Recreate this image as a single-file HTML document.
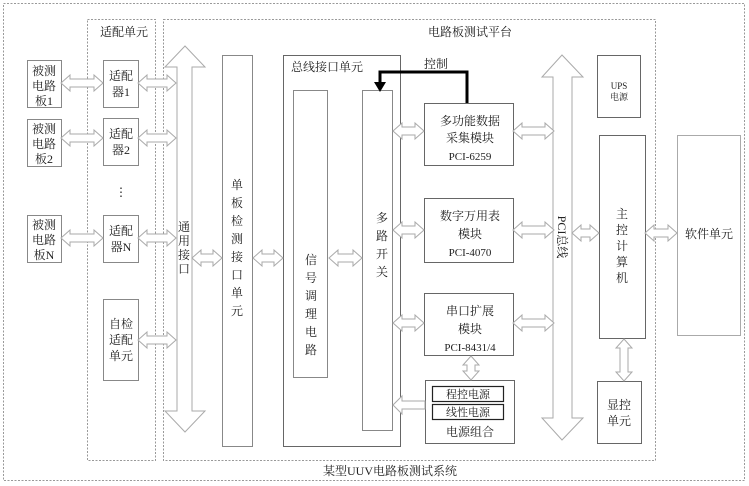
<!DOCTYPE html>
<html><head><meta charset="utf-8"><style>
html,body{margin:0;padding:0;background:#fff;}
svg{display:block;}
text{font-family:"Liberation Serif","Noto Serif CJK SC","Noto Sans CJK SC",serif;fill:#222;}
</style></head><body>
<svg width="749" height="486" viewBox="0 0 749 486" xmlns="http://www.w3.org/2000/svg">
<g fill="none" stroke="#999" stroke-width="1" stroke-dasharray="2,1.5">
<rect x="3.5" y="3.5" width="741" height="477"/>
<rect x="87.5" y="19.5" width="68" height="441"/>
<rect x="163.5" y="19.5" width="492" height="441"/>
</g>
<g fill="#fff" stroke="#888" stroke-width="1">
<rect x="27.5" y="60.5" width="34" height="47"/>
<rect x="27.5" y="119.5" width="34" height="47"/>
<rect x="27.5" y="215.5" width="34" height="47"/>
<rect x="103.5" y="60.5" width="35" height="47"/>
<rect x="103.5" y="118.5" width="35" height="47"/>
<rect x="103.5" y="215.5" width="35" height="47"/>
<rect x="103.5" y="299.5" width="35" height="81"/>
<rect x="222.5" y="55.5" width="30" height="391"/>
<rect x="283.5" y="55.5" width="117" height="391" stroke="#666"/>
<rect x="293.5" y="90.5" width="34" height="287"/>
<rect x="362.5" y="90.5" width="30" height="340"/>
<rect x="424.5" y="103.5" width="89" height="62" stroke="#666"/>
<rect x="424.5" y="198.5" width="89" height="64" stroke="#666"/>
<rect x="424.5" y="293.5" width="89" height="62" stroke="#666"/>
<rect x="425.5" y="380.5" width="89" height="63" stroke="#666"/>
<rect x="597.5" y="55.5" width="43" height="62" stroke="#666"/>
<rect x="599.5" y="135.5" width="46" height="203" stroke="#666"/>
<rect x="597.5" y="381.5" width="44" height="62" stroke="#666"/>
<rect x="677.5" y="135.5" width="63" height="200" stroke="#aaa"/>
</g>
<g fill="#fff" stroke="#222" stroke-width="1.2">
<rect x="432.5" y="386.5" width="71" height="15"/>
<rect x="432.5" y="404.5" width="71" height="15"/>
</g>
<!-- big vertical arrows -->
<g fill="#fff" stroke="#aaa" stroke-width="1">
<polygon points="185,46 205,67 192,67 192,411 205,411 185,432 165,411 177,411 177,67 165,67"/>
<polygon points="562,55 583,77 572,77 572,418 583,418 562,440 542,418 553,418 553,77 542,77"/>
</g>
<g fill="#fff" stroke="#aaa" stroke-width="1" id="arrows">
</g>
<!-- control arrow -->
<polyline points="467,103 467,72 380,72 380,84" fill="none" stroke="#000" stroke-width="3"/>
<polygon points="374,82 386,82 380,92" fill="#000"/>
<g font-size="12" text-anchor="middle">
<text x="390" y="475">某型UUV电路板测试系统</text>
<text x="124" y="36">适配单元</text>
<text x="470" y="36">电路板测试平台</text>
<text x="327" y="71" >总线接口单元</text>
<text x="436" y="68">控制</text>
</g>
<g font-size="12" text-anchor="middle">
<text x="44" y="75">被测</text><text x="44" y="90">电路</text><text x="44" y="105">板1</text>
<text x="44" y="133">被测</text><text x="44" y="148">电路</text><text x="44" y="163">板2</text>
<text x="44" y="229">被测</text><text x="44" y="244">电路</text><text x="44" y="259">板N</text>
<text x="121" y="80">适配</text><text x="121" y="96">器1</text>
<text x="121" y="138">适配</text><text x="121" y="154">器2</text>
<text x="121" y="196">⋮</text>
<text x="121" y="235">适配</text><text x="121" y="251">器N</text>
<text x="121" y="328">自检</text><text x="121" y="344">适配</text><text x="121" y="360">单元</text>
</g>
<g font-size="12" text-anchor="middle">
<text x="184" y="231">通</text><text x="184" y="245">用</text><text x="184" y="259">接</text><text x="184" y="273">口</text>
<text x="237" y="189">单</text><text x="237" y="207">板</text><text x="237" y="225">检</text><text x="237" y="243">测</text><text x="237" y="261">接</text><text x="237" y="279">口</text><text x="237" y="297">单</text><text x="237" y="315">元</text>
<text x="311" y="264">信</text><text x="311" y="282">号</text><text x="311" y="300">调</text><text x="311" y="318">理</text><text x="311" y="336">电</text><text x="311" y="354">路</text>
<text x="382" y="222">多</text><text x="382" y="240">路</text><text x="382" y="258">开</text><text x="382" y="276">关</text>
<text x="470" y="125">多功能数据</text><text x="470" y="142">采集模块</text>
<text x="470" y="160" font-family="Liberation Sans,sans-serif" font-size="11">PCI-6259</text>
<text x="470" y="220">数字万用表</text><text x="470" y="238">模块</text>
<text x="470" y="256" font-size="11">PCI-4070</text>
<text x="470" y="315">串口扩展</text><text x="470" y="333">模块</text>
<text x="470" y="351" font-size="11">PCI-8431/4</text>
<text x="468" y="398" font-size="11">程控电源</text>
<text x="468" y="416" font-size="11">线性电源</text>
<text x="470" y="436">电源组合</text>
<text x="619" y="89" font-size="9">UPS</text><text x="619" y="100" font-size="9">电源</text>
<text x="622" y="218">主</text><text x="622" y="234">控</text><text x="622" y="250">计</text><text x="622" y="266">算</text><text x="622" y="282">机</text>
<text x="619" y="409">显控</text><text x="619" y="425">单元</text>
<text x="709" y="238">软件单元</text>
<text x="0" y="0" transform="translate(558,237) rotate(90)" font-size="12">PCI总线</text>
</g>
<script>
(function(){
var g=document.getElementById('arrows');var ns='http://www.w3.org/2000/svg';
function h(x1,x2,y){var a=9,w=8,s=4;var p=[[x1,y],[x1+a,y-w],[x1+a,y-s],[x2-a,y-s],[x2-a,y-w],[x2,y],[x2-a,y+w],[x2-a,y+s],[x1+a,y+s],[x1+a,y+w]];add(p);}
function v(x,y1,y2){var a=9,w=8,s=4;var p=[[x,y1],[x+w,y1+a],[x+s,y1+a],[x+s,y2-a],[x+w,y2-a],[x,y2],[x-w,y2-a],[x-s,y2-a],[x-s,y1+a],[x-w,y1+a]];add(p);}
function add(p){var e=document.createElementNS(ns,'polygon');e.setAttribute('points',p.map(function(q){return q.join(',')}).join(' '));g.appendChild(e);}
[83,138,238].forEach(function(y){h(61,103,y);h(138,176,y);});
h(138,176,340);h(192,222,258);h(253,283,258);h(329,362,258);
[131,230,323].forEach(function(y){h(393,424,y);h(513,554,y);});
h(572,599,233);h(645,677,233);
v(624,339,381);v(471,356,380);
add([[393,405],[402,396],[402,401],[425,401],[425,409],[402,409],[402,414]]);
})();
</script>
</svg>
</body></html>
